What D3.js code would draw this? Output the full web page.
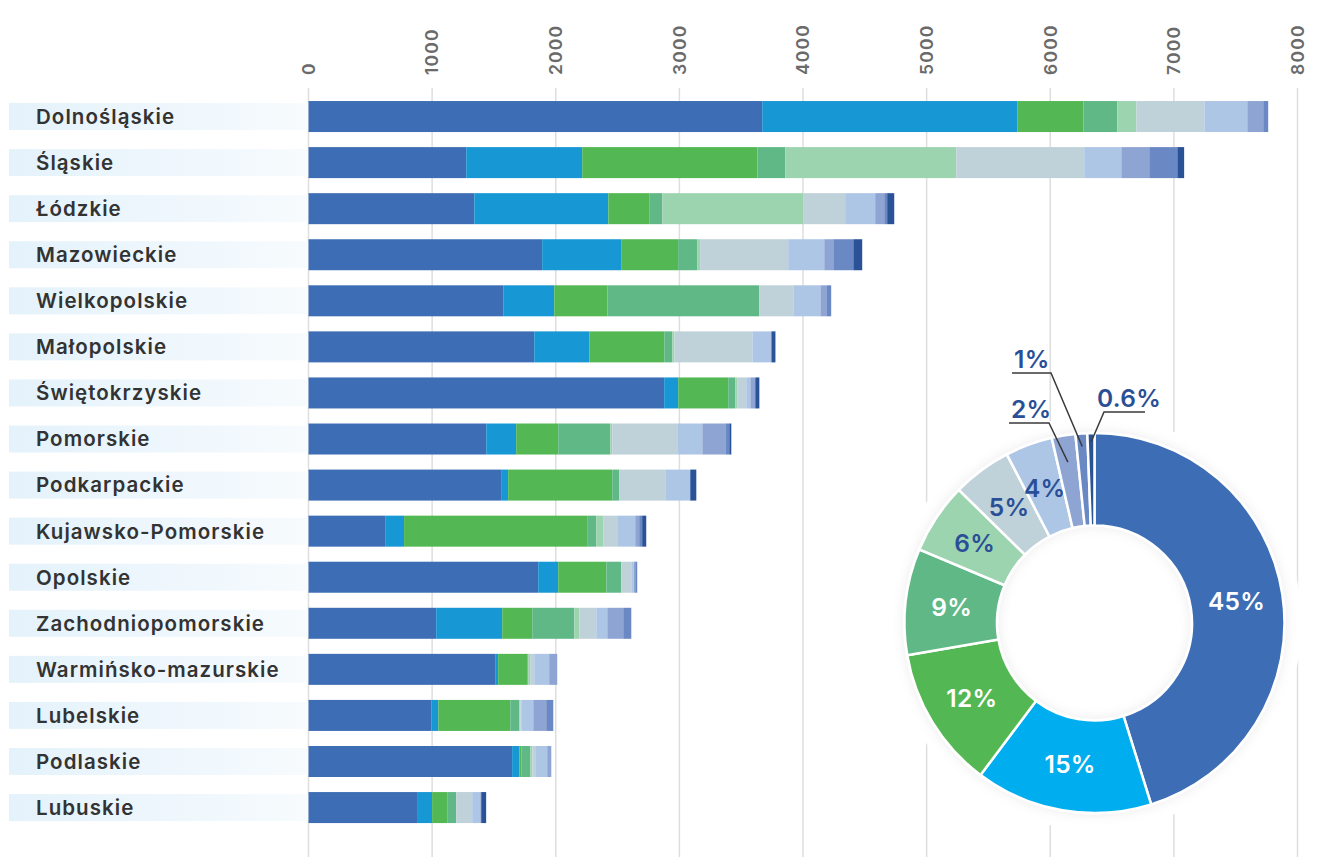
<!DOCTYPE html>
<html>
<head>
<meta charset="utf-8">
<script src="https://cdn.jsdelivr.net/npm/d3@7"></script>
<style>
  body { margin: 0; background: #fff; }
  svg { display: block; font-family: Inter, "Open Sans", sans-serif; }
</style>
</head>
<body>
<svg id="svg" width="1319" height="857"></svg>
<script>
// regions, top to bottom
const regions = ["Dolnośląskie", "Śląskie", "Łódzkie", "Mazowieckie", "Wielkopolskie", "Małopolskie",
  "Świętokrzyskie", "Pomorskie", "Podkarpackie", "Kujawsko-Pomorskie", "Opolskie",
  "Zachodniopomorskie", "Warmińsko-mazurskie", "Lubelskie", "Podlaskie", "Lubuskie"];

// stacked segments, one array per series (same order as regions)
const s1 = [3670, 1276, 1341, 1890, 1575, 1826, 2877, 1438, 1558, 620, 1858, 1033, 1510, 994, 1647, 878];
const s2 = [2063, 938, 1084, 639, 413, 445, 114, 242, 57, 153, 162, 534, 24, 56, 58, 122];
const s3 = [535, 1417, 331, 461, 429, 607, 404, 340, 842, 1481, 389, 243, 235, 582, 16, 122];
const s4 = [275, 226, 105, 154, 1230, 65, 57, 421, 57, 73, 121, 340, 8, 73, 72, 73];
const s5 = [154, 1383, 1141, 24, 0, 17, 16, 16, 0, 57, 0, 40, 16, 8, 17, 0];
const s6 = [550, 1035, 339, 712, 275, 631, 73, 526, 372, 113, 81, 138, 33, 8, 24, 129];
const s7 = [347, 300, 243, 292, 219, 146, 33, 203, 202, 146, 19, 89, 121, 97, 97, 65];
const s8 = [129, 226, 73, 73, 48, 8, 40, 186, 0, 32, 13, 129, 65, 105, 33, 8];
const s9 = [40, 227, 24, 162, 39, 0, 0, 32, 0, 24, 16, 65, 0, 57, 0, 0];
const s10 = [0, 55, 57, 72, 0, 32, 33, 16, 49, 33, 0, 0, 0, 0, 0, 40];

const ticks = [0, 1000, 2000, 3000, 4000, 5000, 6000, 7000, 8000];

// donut
const pieValues = [45, 15, 12, 9, 6, 5, 4, 2, 1, 0.6];
const pieLabels = ["45%", "15%", "12%", "9%", "6%", "5%", "4%", "2%", "1%", "0.6%"];

const barColors = ["#3d6eb5", "#1797d4", "#53b853", "#60b886", "#9dd4b0", "#bfd1d9", "#aec6e6", "#8ea5d3", "#6a88c3", "#2a5297"];
const pieColors = ["#3d6eb5", "#00aeef", "#53b853", "#60b886", "#9dd4b0", "#bfd1d9", "#aec6e6", "#8ea5d3", "#6a88c3", "#2a5297"];

const series = [s1, s2, s3, s4, s5, s6, s7, s8, s9, s10];
const keys = series.map((_, i) => "k" + i);
const table = regions.map((r, j) => {
  const row = { region: r };
  series.forEach((s, i) => row[keys[i]] = s[j]);
  return row;
});

const svg = d3.select("#svg");
const W = 1319, H = 857;

const x = d3.scaleLinear().domain([0, 8000]).range([308.5, 1297.5]);
const y = d3.scaleBand().domain(regions).range([93.5, 830.6]).paddingInner(0.327).paddingOuter(0.1635);

const defs = svg.append("defs");
const grad = defs.append("linearGradient").attr("id", "band");
grad.append("stop").attr("offset", "0%").attr("stop-color", "#e4f2fb");
grad.append("stop").attr("offset", "100%").attr("stop-color", "#f7fbfe");

const shadow = defs.append("filter").attr("id", "soft")
  .attr("x", "-20%").attr("y", "-20%").attr("width", "140%").attr("height", "140%");
shadow.append("feDropShadow").attr("dx", 0).attr("dy", 0).attr("stdDeviation", 6)
  .attr("flood-color", "#000").attr("flood-opacity", 0.08);

// grid
svg.append("g").selectAll("line").data(ticks).join("line")
  .attr("x1", d => x(d)).attr("x2", d => x(d))
  .attr("y1", 88).attr("y2", H)
  .attr("stroke", "#dedede").attr("stroke-width", 1.5);

// tick labels (rotated)
svg.append("g").selectAll("text").data(ticks).join("text")
  .attr("transform", d => `translate(${x(d)},75) rotate(-90)`)
  .attr("dy", "0.36em")
  .attr("text-anchor", "start")
  .attr("fill", "#6a6a6a")
  .attr("font-size", 17.5)
  .attr("font-weight", 600)
  .attr("letter-spacing", 1.2)
  .text(d => d);

// category labels
const lab = svg.append("g").selectAll("g").data(regions).join("g")
  .attr("transform", d => `translate(0,${y(d) + y.bandwidth() / 2})`);
lab.append("rect")
  .attr("x", 9).attr("y", -13.5).attr("width", x(0) - 9).attr("height", 27)
  .attr("fill", "url(#band)");
lab.append("text")
  .attr("x", 36).attr("dy", "0.36em")
  .attr("fill", "#333")
  .attr("font-size", 20.5)
  .attr("font-weight", 600)
  .attr("letter-spacing", 1.05)
  .text(d => d);

// stacked bars
const stacked = d3.stack().keys(keys)(table);
svg.append("g").selectAll("g").data(stacked).join("g")
  .attr("fill", (d, i) => barColors[i])
  .selectAll("rect").data(d => d).join("rect")
  .attr("x", d => x(d[0]))
  .attr("width", d => Math.max(0, x(d[1]) - x(d[0])))
  .attr("y", d => y(d.data.region))
  .attr("height", y.bandwidth());

// donut
const cx = 1094.5, cy = 623, rIn = 97.5, rOut = 190;
const pg = svg.append("g").attr("transform", `translate(${cx},${cy})`);
pg.append("circle").attr("r", 207).attr("fill", "#fff");

const arcs = d3.pie().sort(null).value(d => d)(pieValues);
const arc = d3.arc().innerRadius(rIn).outerRadius(rOut);

pg.append("g").attr("filter", "url(#soft)")
  .selectAll("path").data(arcs).join("path")
  .attr("d", arc)
  .attr("fill", (d, i) => pieColors[i])
  .attr("stroke", "#fff").attr("stroke-width", 2.5);

const labelFill = ["#fff", "#fff", "#fff", "#fff", "#2a4f96", "#2a4f96", "#2a4f96"];
pg.append("g").selectAll("text").data(arcs.slice(0, 7)).join("text")
  .attr("transform", d => `translate(${arc.centroid(d)})`)
  .attr("text-anchor", "middle").attr("dy", "0.36em")
  .attr("fill", (d, i) => labelFill[i])
  .attr("font-size", 24.5).attr("font-weight", 600)
  .attr("letter-spacing", 0.3)
  .text((d, i) => pieLabels[i]);

// outside labels with leader lines: [slice index, radius at slice, elbow dx, elbow dy, line end dx, side]
const callouts = [
  [7, 163, -45.5, -200, -85.5, -1],
  [8, 177, -43.5, -250, -82.5, -1],
  [9, 181, 9.5, -211, 50.5, 1]
];
const cg = pg.append("g");
callouts.forEach(([i, r, ex, ey, lx, side]) => {
  const a = (arcs[i].startAngle + arcs[i].endAngle) / 2;
  const px = r * Math.sin(a), py = -r * Math.cos(a);
  cg.append("polyline")
    .attr("points", [[px, py], [ex, ey], [lx, ey]].map(p => p.join(",")).join(" "))
    .attr("fill", "none").attr("stroke", "#3a3a3a").attr("stroke-width", 1.5);
  cg.append("text")
    .attr("x", side < 0 ? lx + 2 : ex - 7)
    .attr("y", ey - 5)
    .attr("fill", "#2a4f96")
    .attr("font-size", 24.5).attr("font-weight", 600)
    .attr("letter-spacing", 0.3)
    .text(pieLabels[i]);
});
</script>
</body>
</html>
